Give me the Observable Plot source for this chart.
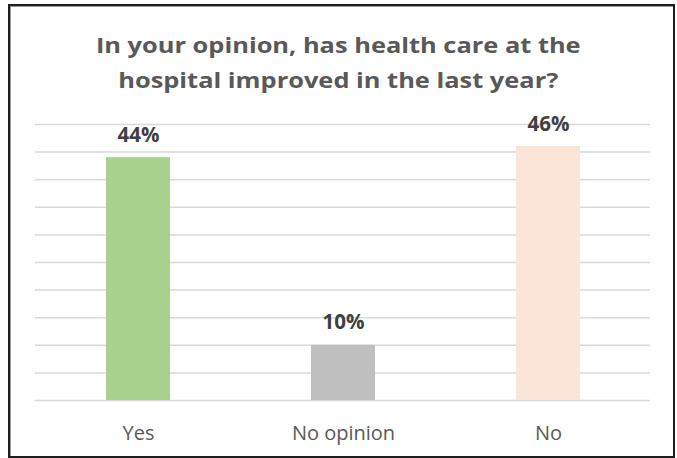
<!DOCTYPE html>
<html>
<head>
<meta charset="utf-8">
<script src="https://cdn.jsdelivr.net/npm/d3@7"></script>
<script src="https://cdn.jsdelivr.net/npm/@observablehq/plot@0.6"></script>
<style>
  html, body { margin: 0; padding: 0; background: #fff; width: 677px; height: 458px; overflow: hidden; }
  #chart { position: absolute; left: 0; top: 0; }
  #frame { position: absolute; left: 8px; top: 4px; width: 663px; height: 450px;
           border: 2px solid #1e1e1e; box-shadow: inset 1px 1px 0 #9a9a9a; pointer-events: none; }
  #title { position: absolute; left: 0; top: 27px; width: 677px; text-align: center;
           font-family: "Open Sans", sans-serif; font-weight: bold; font-size: 22px; line-height: 35px; color: #595959;
           transform: scaleX(1.155); transform-origin: 340px 0; }
</style>
</head>
<body>
<div id="chart"></div>
<div id="frame"></div>
<div id="title">In your opinion, has health care at the<br>hospital improved in the last year?</div>
<script>
const categories = ["Yes", "No opinion", "No"];
const values = [44, 10, 46];
const colors = ["#a9d18e", "#bfbfbf", "#fbe5d6"];
const yTicks = [0, 5, 10, 15, 20, 25, 30, 35, 40, 45, 50];

const data = categories.map((c, i) => ({category: c, value: values[i], color: colors[i]}));

const chart = Plot.plot({
  width: 677,
  height: 458,
  marginTop: 124,
  marginBottom: 58,
  marginLeft: 35,
  marginRight: 27,
  style: {background: "transparent", fontFamily: "'Open Sans', sans-serif"},
  x: {domain: categories, paddingInner: 0.69, paddingOuter: 0.345, label: null},
  y: {domain: [0, 50], label: null},
  marks: [
    Plot.gridY(yTicks, {stroke: "#d9d9d9", strokeOpacity: 1, strokeWidth: 1.5}),
    Plot.barY(data, {x: "category", y: "value", fill: "color"}),
    Plot.text(data, {x: "category", y: "value", text: d => d.value + "%", lineAnchor: "bottom", dy: -16,
                     fontSize: 20.5, fontWeight: "bold", fill: "#404040"}),
    Plot.axisX({tickSize: 0, tickPadding: 25, fontSize: 20, fill: "#595959"}),
    Plot.axisY({ticks: [], label: null, tickSize: 0})
  ]
});
document.getElementById("chart").appendChild(chart);
</script>
</body>
</html>
